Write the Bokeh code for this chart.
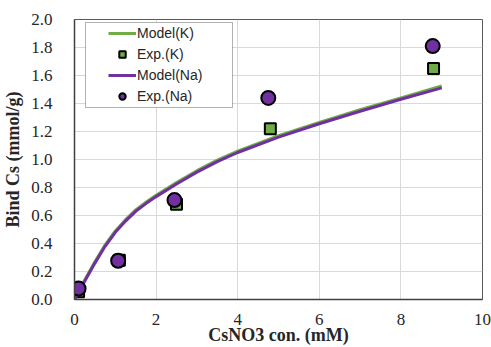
from bokeh.plotting import figure
from bokeh.models import Legend, LegendItem, BoxAnnotation, FixedTicker, NumeralTickFormatter, Range1d
from bokeh.embed import file_html
from bokeh.resources import INLINE

# Model curves
model_x = [0, 0.25, 0.5, 0.75, 1, 1.25, 1.5, 1.75, 2, 2.5, 3, 3.5, 4, 5, 6, 7, 8, 9]
model_k = [0, 0.14, 0.27, 0.39, 0.49, 0.57, 0.64, 0.695, 0.745, 0.835, 0.92, 0.995, 1.06, 1.17, 1.265, 1.355, 1.44, 1.525]
model_na = [0, 0.13, 0.26, 0.38, 0.48, 0.56, 0.63, 0.685, 0.735, 0.825, 0.91, 0.985, 1.05, 1.16, 1.255, 1.345, 1.43, 1.512]

# Experimental points
exp_k_x = [0.1, 1.1, 2.5, 4.8, 8.8]
exp_k_y = [0.055, 0.28, 0.68, 1.22, 1.65]
exp_na_x = [0.1, 1.07, 2.45, 4.75, 8.78]
exp_na_y = [0.078, 0.277, 0.71, 1.44, 1.81]

x_ticks = [0, 2, 4, 6, 8, 10]
y_ticks = [0.0, 0.2, 0.4, 0.6, 0.8, 1.0, 1.2, 1.4, 1.6, 1.8, 2.0]

GREEN = "#70AD47"
PURPLE = "#7030A0"

p = figure(width=491, height=347, output_backend="svg", toolbar_location=None,
           x_range=Range1d(0, 10), y_range=Range1d(0, 2),
           min_border_left=73, min_border_right=9, min_border_top=19, min_border_bottom=45)
p.outline_line_color = "#595959"
p.outline_line_width = 1

r1 = p.line(model_x, model_k, line_color=GREEN, line_width=3)
r2 = p.scatter(exp_k_x, exp_k_y, marker="square", size=11, fill_color=GREEN, line_color="black", line_width=2)
r3 = p.line(model_x, model_na, line_color=PURPLE, line_width=3)
r4 = p.scatter(exp_na_x, exp_na_y, marker="circle", size=14, fill_color=PURPLE, line_color="black", line_width=2)

for ax in (p.xaxis[0], p.yaxis[0]):
    ax.major_tick_line_color = None
    ax.minor_tick_line_color = None
    ax.axis_line_color = "#404040"
    ax.axis_line_width = 1.5
    ax.major_label_text_font = "Liberation Serif"
    ax.major_label_text_font_size = "17px"
    ax.major_label_text_color = "#262626"
    ax.axis_label_text_font = "Liberation Serif"
    ax.axis_label_text_font_size = "18px"
    ax.axis_label_text_font_style = "bold"
    ax.axis_label_text_color = "#262626"

p.xaxis.ticker = FixedTicker(ticks=x_ticks)
p.yaxis.ticker = FixedTicker(ticks=y_ticks)
p.yaxis.formatter = NumeralTickFormatter(format="0.0")
p.xaxis.axis_label = "CsNO3 con. (mM)"
p.yaxis.axis_label = "Bind Cs (mmol/g)"
p.xaxis.major_label_standoff = 8
p.xaxis.axis_label_standoff = -3
p.yaxis.major_label_standoff = 16
p.yaxis.axis_label_standoff = 5

p.xgrid.grid_line_color = "#D9D9D9"
p.ygrid.grid_line_color = "#D9D9D9"

box = BoxAnnotation(left=11, right=158, top=277, bottom=192,
                    left_units="screen", right_units="screen", top_units="screen", bottom_units="screen",
                    fill_color="white", fill_alpha=1, line_color="black", line_width=1)
p.add_layout(box)

legend = Legend(items=[
    LegendItem(label="Model(K)", renderers=[r1]),
    LegendItem(label="Exp.(K)", renderers=[r2]),
    LegendItem(label="Model(Na)", renderers=[r3]),
    LegendItem(label="Exp.(Na)", renderers=[r4]),
], location=(31, 192))
legend.label_text_font = "Liberation Sans"
legend.label_text_font_size = "14px"
legend.label_text_color = "#262626"
legend.glyph_width = 28
legend.glyph_height = 16
legend.label_height = 16
legend.label_standoff = 1
legend.spacing = 5
legend.padding = 3
legend.margin = 0
legend.border_line_alpha = 0
legend.background_fill_alpha = 0
p.add_layout(legend)

open("out.html", "w").write(file_html(p, INLINE))
